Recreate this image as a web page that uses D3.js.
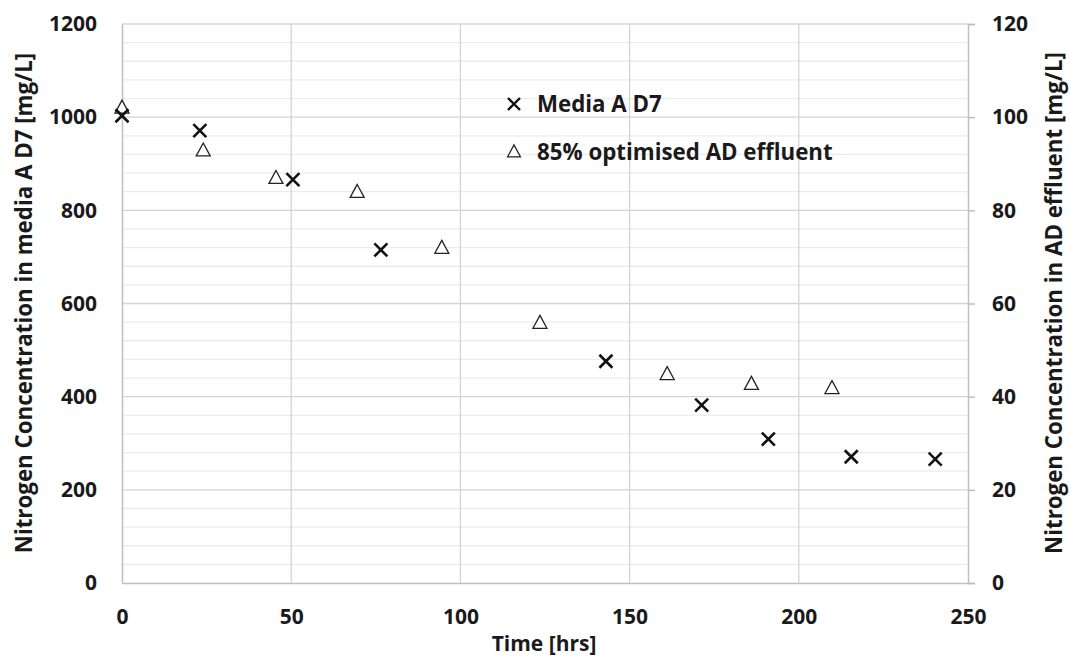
<!DOCTYPE html>
<html>
<head>
<meta charset="utf-8">
<script src="https://cdn.jsdelivr.net/npm/d3@7/dist/d3.min.js"></script>
<style>
  html, body { margin: 0; padding: 0; background: #fff; }
  svg text { font-family: "Open Sans", Lato, sans-serif; font-weight: bold; fill: #1a1a1a; }
</style>
</head>
<body>
<svg id="chart" width="1070" height="659"></svg>
<script>
// Media A D7 — nitrogen concentration (left axis, mg/L)
const mediaTime = [0, 23, 50.5, 76.5, 143, 171.3, 191, 215.5, 240.3];
const mediaN    = [1003, 971, 866, 715, 476, 382, 309, 271, 266];

// 85% optimised AD effluent — nitrogen concentration (right axis, mg/L)
const effluentTime = [0, 24, 45.5, 69.5, 94.5, 123.5, 161.1, 186, 209.8];
const effluentN    = [102, 92.8, 86.9, 83.9, 71.9, 55.8, 44.8, 42.7, 41.8];

const xTicks      = [0, 50, 100, 150, 200, 250];
const leftTicks   = [0, 200, 400, 600, 800, 1000, 1200];
const rightTicks  = [0, 20, 40, 60, 80, 100, 120];
const seriesNames = ["Media A D7", "85% optimised AD effluent"];

const svg = d3.select("#chart");
const m = { left: 122, right: 968, top: 24, bottom: 583 };

const x  = d3.scaleLinear().domain([0, 250]).range([m.left, m.right]);
const yL = d3.scaleLinear().domain([0, 1200]).range([m.bottom, m.top]);
const yR = d3.scaleLinear().domain([0, 120]).range([m.bottom, m.top]);

// minor horizontal gridlines every 40 mg/L
const minor = d3.range(40, 1200, 40).filter(v => v % 200 !== 0);
svg.append("g").selectAll("line").data(minor).join("line")
  .attr("x1", m.left).attr("x2", m.right)
  .attr("y1", d => yL(d)).attr("y2", d => yL(d))
  .attr("stroke", "#ececec").attr("stroke-width", 1.3);

// major horizontal gridlines
svg.append("g").selectAll("line").data(leftTicks.filter(v => v > 0)).join("line")
  .attr("x1", m.left).attr("x2", m.right)
  .attr("y1", d => yL(d)).attr("y2", d => yL(d))
  .attr("stroke", "#d4d4d4").attr("stroke-width", 1.3);

// vertical gridlines
svg.append("g").selectAll("line").data(xTicks.filter(v => v > 0 && v < 250)).join("line")
  .attr("x1", d => x(d)).attr("x2", d => x(d))
  .attr("y1", m.top).attr("y2", m.bottom)
  .attr("stroke", "#d4d4d4").attr("stroke-width", 1.3);

// axes
const axisColor = "#bfbfbf";
const fmt = d3.format("d");
const gx = svg.append("g").attr("transform", `translate(0,${m.bottom})`)
  .call(d3.axisBottom(x).tickValues(xTicks).tickFormat(fmt).tickSize(0).tickPadding(26));
const gl = svg.append("g").attr("transform", `translate(${m.left},0)`)
  .call(d3.axisLeft(yL).tickValues(leftTicks).tickFormat(fmt).tickSize(0).tickPadding(25));
const gr = svg.append("g").attr("transform", `translate(${m.right},0)`)
  .call(d3.axisRight(yR).tickValues(rightTicks).tickFormat(fmt).tickSize(7).tickPadding(17));
[gx, gl, gr].forEach(g => {
  g.select(".domain").attr("stroke", axisColor).attr("stroke-width", 1.5);
  g.selectAll(".tick line").attr("stroke", axisColor).attr("stroke-width", 1.5);
  g.selectAll(".tick text").style("font-size", "21px").attr("fill", "#1a1a1a")
    .style("font-family", "'Open Sans', sans-serif").style("font-weight", "bold");
});
gx.selectAll(".tick text").attr("dy", "0.71em");
gr.selectAll(".tick line").attr("x1", 0);

// axis titles
svg.append("text").attr("x", 544).attr("y", 644).attr("dy", "0.35em")
  .attr("text-anchor", "middle").style("font-size", "21px").text("Time [hrs]");
svg.append("text").attr("transform", `translate(24,303) rotate(-90)`)
  .attr("dy", "0.35em").attr("text-anchor", "middle").style("font-size", "22.3px")
  .text("Nitrogen Concentration in media A D7 [mg/L]");
svg.append("text").attr("transform", `translate(1054,303) rotate(-90)`)
  .attr("dy", "0.35em").attr("text-anchor", "middle").style("font-size", "22.3px")
  .text("Nitrogen Concentration in AD effluent [mg/L]");

// markers
const crossPath = s => `M${-s},${-s}L${s},${s}M${-s},${s}L${s},${-s}`;
const triPath = s => `M0,${-s * 1.1}L${s},${s * 0.75}L${-s},${s * 0.75}Z`;

svg.append("g").selectAll("path").data(effluentTime.map((t, i) => [t, effluentN[i]])).join("path")
  .attr("transform", d => `translate(${x(d[0])},${yR(d[1])})`)
  .attr("d", triPath(7)).attr("fill", "#fff").attr("stroke", "#222").attr("stroke-width", 1.3);

svg.append("g").selectAll("path").data(mediaTime.map((t, i) => [t, mediaN[i]])).join("path")
  .attr("transform", d => `translate(${x(d[0])},${yL(d[1])})`)
  .attr("d", crossPath(6.5)).attr("fill", "none").attr("stroke", "#111").attr("stroke-width", 2.6);

// legend
const legend = svg.append("g");
const lx = 514, ly = [104, 152];
legend.append("path").attr("transform", `translate(${lx},${ly[0]})`)
  .attr("d", crossPath(6)).attr("stroke", "#111").attr("stroke-width", 2.4).attr("fill", "none");
legend.append("path").attr("transform", `translate(${lx},${ly[1]})`)
  .attr("d", triPath(6.5)).attr("stroke", "#222").attr("stroke-width", 1.2).attr("fill", "#fff");
seriesNames.forEach((name, i) => {
  legend.append("text").attr("x", lx + 23).attr("y", ly[i]).attr("dy", "0.35em")
    .style("font-size", "22.3px").text(name);
});
</script>
</body>
</html>
